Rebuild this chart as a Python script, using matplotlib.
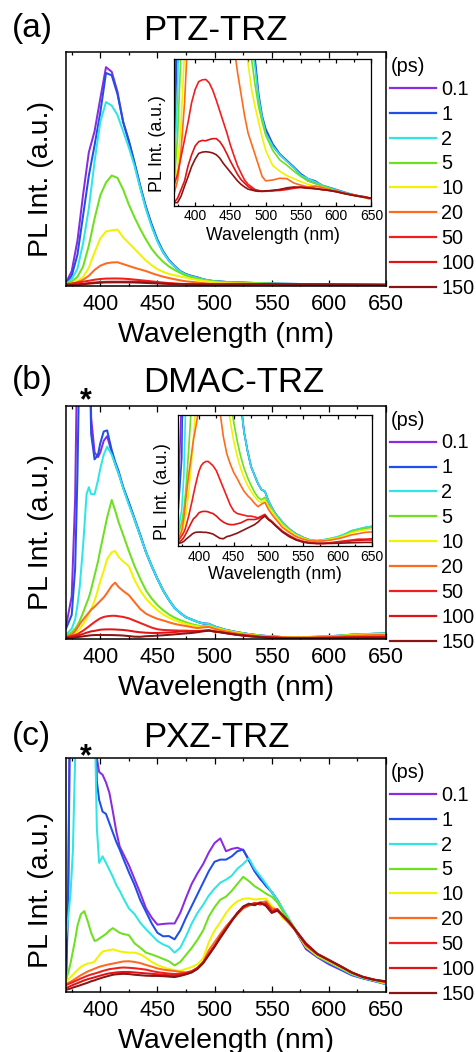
import matplotlib
matplotlib.use("Agg")
import matplotlib.pyplot as plt
from matplotlib.ticker import MultipleLocator, NullLocator

plt.rcParams['font.family'] = ['Liberation Sans', 'DejaVu Sans']

# ---------------------------------------------------------------- legend / colours
delays = ["0.1", "1", "2", "5", "10", "20", "50", "100", "150"]
colors = ["#8a2be2", "#1f4fe6", "#2ee6e6", "#6ee01e", "#f2f200",
          "#ff6a1e", "#f01e1e", "#e01414", "#8b1414"]

# ---------------------------------------------------------------- (a) PTZ-TRZ
wl_a = [370, 375, 380, 385, 390, 395, 400, 405, 410, 415, 420, 425, 430, 435,
        440, 445, 450, 455, 460, 465, 470, 475, 480, 485, 490, 495, 500, 510,
        520, 530, 540, 550, 560, 570, 580, 590, 600, 610, 620, 630, 640, 650]
a_01 = [1.0, 6, 19, 39, 57, 66, 80, 93.5, 91.5, 83, 70, 61.5, 52, 42, 33, 25.5,
        19, 14, 10.5, 8, 5.8, 4.6, 3.8, 3.2, 2.4, 1.9, 1.65, 1.3, 1.1, 0.95,
        0.8, 0.62, 0.5, 0.45, 0.38, 0.33, 0.27, 0.23, 0.19, 0.16, 0.12, 0.07]
a_1 = [0.8, 4, 13, 30, 47, 60, 74, 91, 90, 82, 70, 62, 52.5, 42.5, 33.5, 26,
       19.5, 14.5, 10.8, 8.2, 6, 4.7, 3.9, 3.3, 2.5, 2.0, 1.7, 1.35, 1.12, 0.97,
       0.82, 0.66, 0.55, 0.5, 0.4, 0.35, 0.3, 0.25, 0.2, 0.16, 0.13, 0.09]
a_2 = [0.5, 2.5, 7, 18, 33, 53, 70, 78.5, 77, 73, 66, 59, 51, 41.5, 32.5, 25,
       18.8, 14, 10.4, 7.9, 5.8, 4.5, 3.7, 3.1, 2.4, 1.95, 1.6, 1.3, 1.1, 0.95,
       0.8, 0.63, 0.55, 0.48, 0.4, 0.34, 0.29, 0.24, 0.2, 0.16, 0.13, 0.09]
a_5 = [0.4, 1.5, 3.5, 8, 17, 28.5, 38.5, 44, 47, 46, 41, 34.5, 29, 24, 19.5,
       15.5, 12.5, 10, 8, 6.5, 5.2, 4.1, 3.3, 2.7, 2.2, 1.85, 1.55, 1.2, 0.98,
       0.86, 0.72, 0.6, 0.5, 0.44, 0.38, 0.33, 0.27, 0.22, 0.19, 0.15, 0.12, 0.08]
a_10 = [0.3, 0.8, 1.8, 3.5, 7.5, 14, 20, 23, 23.5, 23.8, 20.5, 18, 15.5, 13,
        10.5, 8.5, 6.8, 5.7, 4.8, 4.2, 3.7, 3.2, 2.6, 2.2, 1.85, 1.5, 1.2, 0.85,
        0.72, 0.62, 0.55, 0.48, 0.42, 0.38, 0.36, 0.3, 0.26, 0.22, 0.18, 0.15,
        0.12, 0.08]
a_20 = [0.2, 0.5, 1.2, 2.3, 4, 6.5, 8.3, 9.3, 9.7, 9.8, 9, 8.2, 7.4, 6.7, 6,
        5.1, 4.3, 3.6, 3.0, 2.5, 2.0, 1.6, 1.35, 1.1, 0.85, 0.6, 0.5, 0.52, 0.56,
        0.55, 0.45, 0.4, 0.36, 0.38, 0.35, 0.3, 0.27, 0.22, 0.19, 0.16, 0.14, 0.09]
a_50 = [0.4, 0.65, 1.05, 1.45, 1.85, 2.3, 2.6, 2.78, 2.82, 2.83, 2.75, 2.58,
        2.35, 2.1, 1.85, 1.6, 1.32, 1.08, 0.85, 0.68, 0.52, 0.42, 0.36, 0.3,
        0.28, 0.26, 0.27, 0.27, 0.28, 0.3, 0.33, 0.36, 0.34, 0.32, 0.3, 0.28,
        0.26, 0.22, 0.19, 0.16, 0.13, 0.1]
a_100 = [0.0, 0.1, 0.3, 0.5, 0.85, 1.1, 1.3, 1.4, 1.43, 1.42, 1.45, 1.47, 1.47,
         1.4, 1.28, 1.12, 0.95, 0.8, 0.65, 0.53, 0.45, 0.37, 0.32, 0.28, 0.27,
         0.26, 0.26, 0.28, 0.3, 0.32, 0.34, 0.35, 0.34, 0.33, 0.3, 0.28, 0.25,
         0.22, 0.18, 0.15, 0.13, 0.1]
a_150 = [0.0, 0.0, 0.15, 0.38, 0.6, 0.83, 1.0, 1.13, 1.16, 1.17, 1.16, 1.14,
         1.1, 1.02, 0.9, 0.8, 0.7, 0.6, 0.5, 0.42, 0.36, 0.31, 0.29, 0.27, 0.26,
         0.26, 0.27, 0.28, 0.3, 0.34, 0.36, 0.35, 0.33, 0.32, 0.3, 0.28, 0.25,
         0.21, 0.18, 0.15, 0.12, 0.1]

# ---------------------------------------------------------------- (b) DMAC-TRZ
wl_b = [370, 375, 378, 380, 382, 385, 388, 390, 392, 395, 398, 400, 403, 406,
        410, 413, 416, 420, 425, 430, 435, 440, 445, 450, 455, 460, 465, 470,
        475, 480, 485, 490, 495, 500, 505, 510, 520, 530, 540, 550, 560, 570,
        580, 590, 600, 610, 620, 630, 640, 650]
b_01 = [5, 18, 60, 130, 200, 250, 220, 160, 95, 80, 78, 80, 85, 87, 80, 75, 71,
        65, 58, 51, 44, 37, 31, 25.5, 20.5, 16.5, 13, 10.8, 9, 8, 7, 6.3, 6.1,
        5.0, 4.2, 3.5, 2.5, 1.7, 1.1, 0.7, 0.4, 0.3, 0.35, 0.5, 0.7, 1.0, 1.4,
        1.6, 1.8, 1.9]
b_1 = [4, 10, 30, 70, 130, 220, 220, 140, 88, 77, 79, 84, 89, 89.5, 81, 76, 72,
       65, 58.5, 51.5, 44.5, 37, 31, 25.5, 20.5, 16.5, 13, 10.8, 9, 8, 7, 6.3,
       6.1, 5.0, 4.2, 3.5, 2.5, 1.7, 1.1, 0.7, 0.4, 0.3, 0.4, 0.55, 0.75, 1.05,
       1.45, 1.65, 1.85, 2.0]
b_2 = [1.5, 4, 8, 14, 22, 40, 62, 65, 62, 62, 68, 73, 79, 82.5, 79, 75, 71,
       64.5, 57.5, 51, 44, 37, 31, 25.5, 20.5, 16.5, 13, 10.8, 9, 8, 7, 6.3,
       6.1, 5.0, 4.2, 3.5, 2.5, 1.7, 1.1, 0.7, 0.4, 0.35, 0.45, 0.6, 0.8, 1.1,
       1.5, 1.7, 1.9, 2.0]
b_5 = [1, 2.5, 4, 5.5, 7.4, 11, 15, 17.5, 21, 27, 33, 38, 45, 52, 59.5, 55, 50,
       44.5, 37.5, 31, 25.5, 20.5, 17, 14.2, 12, 10.2, 8.8, 7.7, 6.8, 6, 5.4,
       5.1, 5.4, 4.5, 3.9, 3.3, 2.3, 1.6, 1.0, 0.65, 0.4, 0.3, 0.4, 0.55, 0.7,
       1.0, 1.4, 1.6, 1.8, 1.9]
b_10 = [0.3, 1.2, 2.2, 3, 3.9, 6, 8.5, 10.5, 12.5, 16, 21, 24.5, 29, 34, 37,
        37.5, 35, 33, 31, 25, 20.5, 17, 14.3, 12, 10.2, 8.8, 7.7, 6.8, 6.1, 5.5,
        5.0, 4.8, 5.1, 4.3, 3.8, 3.2, 2.2, 1.5, 0.95, 0.6, 0.35, 0.3, 0.35, 0.5,
        0.65, 0.9, 1.25, 1.45, 1.6, 1.7]
b_20 = [0.5, 1.5, 3, 4.5, 6, 8, 9.8, 11, 12.2, 13.5, 15, 16, 17.5, 19.5, 22.5,
        23.9, 22, 20.3, 18.5, 15.5, 12.5, 10.5, 9.3, 8.3, 7.6, 6.8, 6.1, 5.6,
        5.2, 4.7, 4.3, 4.6, 4.8, 4.0, 3.4, 2.9, 1.9, 1.3, 0.8, 0.5, 0.3, 0.28,
        0.3, 0.4, 0.55, 0.75, 1.0, 1.15, 1.3, 1.35]
b_50 = [0.3, 0.9, 1.3, 1.7, 2.3, 3.2, 4.3, 5.0, 5.8, 6.9, 7.9, 8.5, 9.1, 9.4,
        9.6, 9.6, 9.4, 9.1, 8.5, 7.5, 6.5, 5.5, 4.5, 3.8, 3.5, 3.4, 3.3, 3.2,
        3.2, 3.1, 3.0, 3.2, 3.4, 2.9, 2.6, 2.2, 1.45, 0.95, 0.5, 0.25, 0.1, 0.0,
        0.0, 0.1, 0.2, 0.3, 0.4, 0.5, 0.5, 0.55]
b_100 = [0.05, 0.4, 0.7, 1.0, 1.3, 1.8, 2.3, 2.6, 2.9, 3.1, 3.4, 3.6, 3.7,
         3.75, 3.75, 3.7, 3.6, 3.5, 3.2, 2.8, 2.5, 2.3, 2.2, 2.2, 2.3, 2.4,
         2.6, 2.8, 2.8, 2.8, 2.9, 3.1, 3.3, 2.8, 2.5, 2.1, 1.4, 0.85, 0.45, 0.2,
         0.05, 0.0, 0.0, 0.05, 0.1, 0.2, 0.3, 0.35, 0.4, 0.4]
b_150 = [0.0, 0.1, 0.25, 0.4, 0.55, 0.75, 0.95, 1.1, 1.2, 1.3, 1.32, 1.33,
         1.33, 1.3, 1.3, 1.25, 1.2, 1.1, 0.85, 0.6, 0.55, 0.8, 0.9, 1.05, 1.2,
         1.4, 1.6, 1.8, 2.0, 2.2, 2.5, 2.9, 3.2, 2.8, 2.5, 2.1, 1.35, 0.8, 0.4,
         0.15, 0.02, 0.0, 0.0, 0.0, 0.02, 0.05, 0.08, 0.1, 0.12, 0.12]

# ---------------------------------------------------------------- (c) PXZ-TRZ
wl_c = [370, 372, 374, 376, 378, 380, 383, 386, 389, 392, 395, 397, 399, 402,
        405, 408, 411, 414, 417, 420, 425, 430, 435, 440, 445, 450, 455, 460,
        465, 470, 475, 480, 485, 490, 495, 500, 505, 510, 515, 520, 525, 530,
        535, 540, 545, 550, 555, 560, 565, 570, 580, 590, 600, 610, 620, 630,
        640, 650]
c_01 = [3, 50, 150, 250, 300, 300, 300, 300, 300, 250, 150, 100, 94, 92.8, 89.5,
        85, 77, 68.5, 62, 59, 54, 48, 42, 35.5, 31.5, 28.5, 28.8, 29, 29, 33.6,
        40, 46, 50.5, 54.5, 59.5, 63.5, 65.5, 60, 61, 61.5, 60.5, 56.5, 51.5,
        48, 45.5, 42.5, 39, 34.5, 30.5, 26.5, 18, 14.5, 11.5, 9.2, 6.8, 5.4,
        4.2, 3]
c_1 = [3, 40, 150, 250, 300, 300, 300, 300, 300, 250, 140, 90, 82, 77, 76, 72,
       68, 64, 60.7, 57, 51, 45.5, 39, 34, 29, 25, 23.5, 23.6, 22.2, 26, 31.5,
       36.5, 41.5, 46.5, 51.5, 55.5, 56.4, 56.4, 57.8, 60, 60.7, 56, 51.5, 48.3,
       45, 42.5, 39, 34.5, 30.5, 26.5, 18.5, 14.8, 12, 9.5, 7, 5.5, 4.3, 3]
c_2 = [23, 32, 42, 60, 100, 200, 260, 280, 260, 200, 120, 70, 55, 57.8, 55, 52,
       49, 45.5, 43, 40, 35.5, 33, 29.3, 26.5, 24, 21.5, 20, 19, 16.5, 18.6,
       23.5, 29, 33.5, 37, 41, 44, 46.5, 47.8, 49.5, 52.5, 54.5, 57, 52.5, 49.3,
       46, 42.5, 39, 35, 31, 27, 19, 15, 12.3, 9.8, 7.2, 5.6, 4.4, 3]
c_5 = [5, 8, 12, 17, 22, 28, 33, 34.3, 30, 25, 21.5, 21.8, 22.5, 23.5, 24.5, 26,
       27, 26, 25, 24.5, 24, 20.5, 18.6, 16.5, 15.7, 14.8, 13.8, 12.8, 11, 12.5,
       15.5, 18.5, 22, 26, 32, 36, 39.2, 40.5, 43, 46, 49, 47.2, 45, 43.5, 41.8,
       40.5, 38, 34, 30.5, 27, 19, 15, 12.5, 10, 7.5, 5.8, 4.6, 3.3]
c_10 = [4, 5, 6, 7, 8, 9, 10.3, 11.2, 11.8, 12, 12.7, 14, 15.3, 17, 17.3, 17.6,
        17.9, 17.5, 17, 16.8, 16.5, 16.5, 15.8, 14.3, 12.5, 11.2, 10.2, 9.5, 9,
        8.7, 9.5, 10.3, 11.5, 14, 21, 26, 29.5, 33.5, 36.5, 38.5, 39.6, 39.8,
        39.3, 39.5, 39.7, 36.5, 34.5, 31, 29.5, 26.5, 19, 15.3, 12.8, 10.3, 7.7,
        6, 4.6, 3.4]
c_20 = [3, 3.5, 4, 4.6, 5.2, 5.9, 6.8, 7.6, 8.4, 9, 9.6, 10, 10.4, 10.8, 11.2,
        11.5, 11.8, 12.1, 12.4, 12.7, 12.8, 12.5, 12, 11.2, 10.5, 9.7, 9.2, 8.9,
        8.6, 8.2, 8, 8.5, 9.8, 12.5, 17.5, 21, 24.5, 27.8, 30.5, 33, 35.5, 36.6,
        37.5, 38, 38.5, 35.5, 35, 32, 29, 26.5, 19.5, 15.7, 13.2, 10.7, 8, 6,
        4.8, 3.6]
c_50 = [2.5, 3, 3.4, 3.8, 4.3, 4.7, 5.4, 6, 6.6, 7.1, 7.5, 7.8, 8.1, 8.6, 9,
        9.4, 9.6, 9.8, 10, 10.1, 10, 9.8, 9.5, 9.2, 8.6, 8.1, 7.8, 7.5, 7.3, 7.4,
        7.8, 8.5, 10, 12.3, 16, 19.5, 23.5, 27, 30.5, 33.6, 36, 37, 37.8, 37.1,
        37.8, 34.5, 34.8, 32.5, 30, 26.8, 20.5, 16, 13.4, 10.8, 8, 6, 4.8, 4.2]
c_100 = [1.3, 1.7, 2.2, 2.6, 3.0, 3.4, 4, 4.6, 5.1, 5.5, 5.9, 6.2, 6.5, 6.9,
         7.3, 7.6, 7.8, 8, 8.1, 8.2, 8.2, 8, 7.8, 7.6, 7.4, 7.2, 7.0, 6.8, 6.7,
         6.8, 7.3, 8.1, 9.6, 12, 15.6, 19.2, 23, 26.6, 30.2, 33.3, 35.8, 37.2,
         37.2, 37.6, 37, 34, 35.2, 32, 29.6, 26.5, 20, 15.8, 13.2, 10.6, 7.9,
         6.1, 4.9, 4]
c_150 = [0.5, 0.8, 1.1, 1.5, 1.8, 2.1, 2.6, 3.1, 3.6, 4.2, 4.6, 5, 5.3, 5.8,
         6.2, 6.6, 7, 7.2, 7.3, 7.4, 7.3, 7, 6.8, 6.6, 6.5, 6.5, 6.4, 6.2, 6,
         6.5, 7.2, 8, 9.5, 12, 15.5, 19, 22.8, 26.4, 30, 33.5, 36.3, 37.5, 36.8,
         38, 36.5, 33.5, 34.5, 32.2, 29.8, 26.6, 20.2, 15.9, 13.3, 10.7, 8, 6,
         4.8, 4.1]

W, H = 477, 1052
fig = plt.figure(figsize=(W / 100, H / 100), dpi=100)


def rect(x0, y0, x1, y1):
    """pixel box (left, top, right, bottom) -> figure fraction rect"""
    return [x0 / W, 1 - y1 / H, (x1 - x0) / W, (y1 - y0) / H]


def style_x(ax, size, pad, major_len, minor_len):
    ax.set_xlim(370, 650)
    ax.xaxis.set_major_locator(MultipleLocator(50))
    ax.xaxis.set_minor_locator(MultipleLocator(25))
    ax.yaxis.set_major_locator(NullLocator())
    ax.yaxis.set_minor_locator(NullLocator())
    ax.tick_params(axis='x', which='both', direction='in', top=True,
                   bottom=True, labelsize=size, pad=pad, width=0.9)
    ax.tick_params(axis='x', which='major', length=major_len)
    ax.tick_params(axis='x', which='minor', length=minor_len)
    for s in ax.spines.values():
        s.set_linewidth(1.1)


def draw_lines(ax, wl, series, lw):
    return [ax.plot(wl, y, color=c, lw=lw, solid_joinstyle='round')[0]
            for y, c in zip(series, colors)]


def panel(box, tag, title, wl, series, tag_y, title_base, ylabel_y,
          inset_box=None, inset_top=None, star_y=None):
    ax = fig.add_axes(rect(*box))
    handles = draw_lines(ax, wl, series, 1.45)
    ax.set_ylim(-0.4, 100)
    style_x(ax, 15.5, 5.5, 4.5, 2.5)
    ax.set_xlabel("Wavelength (nm)", fontsize=20.5, va='top')
    ax.xaxis.set_label_coords(0.5, -0.153)
    ax.set_ylabel("PL Int. (a.u.)", fontsize=20.5)
    ax.yaxis.set_label_coords(-0.038, ylabel_y)

    fig.text(12 / W, 1 - tag_y / H, tag, fontsize=24, ha='left', va='center')
    fig.text(143 / W, 1 - title_base / H, title, fontsize=25, ha='left',
             va='baseline')
    if star_y is not None:
        fig.text(86 / W, 1 - star_y / H, "*", fontsize=22, fontweight='bold',
                 ha='center', va='center')

    # delay-time legend with its unit heading
    ax.text(1.016, 0.936, "(ps)", transform=ax.transAxes, fontsize=14.3,
            ha='left', va='center')
    leg = ax.legend(handles, delays, loc='upper left',
                    bbox_to_anchor=(1.012, 0.882), frameon=False,
                    fontsize=14.3, handlelength=2.3, handletextpad=0.28,
                    labelspacing=0.30, borderpad=0, borderaxespad=0)
    for ln in leg.get_lines():
        ln.set_linewidth(1.6)

    if inset_box is not None:
        ins = fig.add_axes(rect(*inset_box))
        draw_lines(ins, wl, series, 1.2)
        ins.set_ylim(-0.02 * inset_top, inset_top)
        style_x(ins, 10, 2.6, 3, 1.8)
        for s in ins.spines.values():
            s.set_linewidth(0.9)
        ins.set_xlabel("Wavelength (nm)", fontsize=12.7, va='top')
        ins.xaxis.set_label_coords(0.5, -0.15)
        ins.set_ylabel("PL Int. (a.u.)", fontsize=12.8)
        ins.yaxis.set_label_coords(-0.04, 0.42)
    return ax


panel((66, 52, 386, 286), "(a)", "PTZ-TRZ", wl_a,
      [a_01, a_1, a_2, a_5, a_10, a_20, a_50, a_100, a_150],
      tag_y=29, title_base=39.5, ylabel_y=0.459,
      inset_box=(174, 59, 371.5, 205.5), inset_top=3.3)
panel((66, 406, 386, 639), "(b)", "DMAC-TRZ", wl_b,
      [b_01, b_1, b_2, b_5, b_10, b_20, b_50, b_100, b_150],
      tag_y=381, title_base=392, ylabel_y=0.461,
      inset_box=(178.3, 415.3, 372.3, 546), inset_top=15, star_y=401)
panel((66, 758, 386, 992), "(c)", "PXZ-TRZ", wl_c,
      [c_01, c_1, c_2, c_5, c_10, c_20, c_50, c_100, c_150],
      tag_y=737, title_base=747, ylabel_y=0.438, star_y=757)

fig.savefig("out.png", dpi=100)
